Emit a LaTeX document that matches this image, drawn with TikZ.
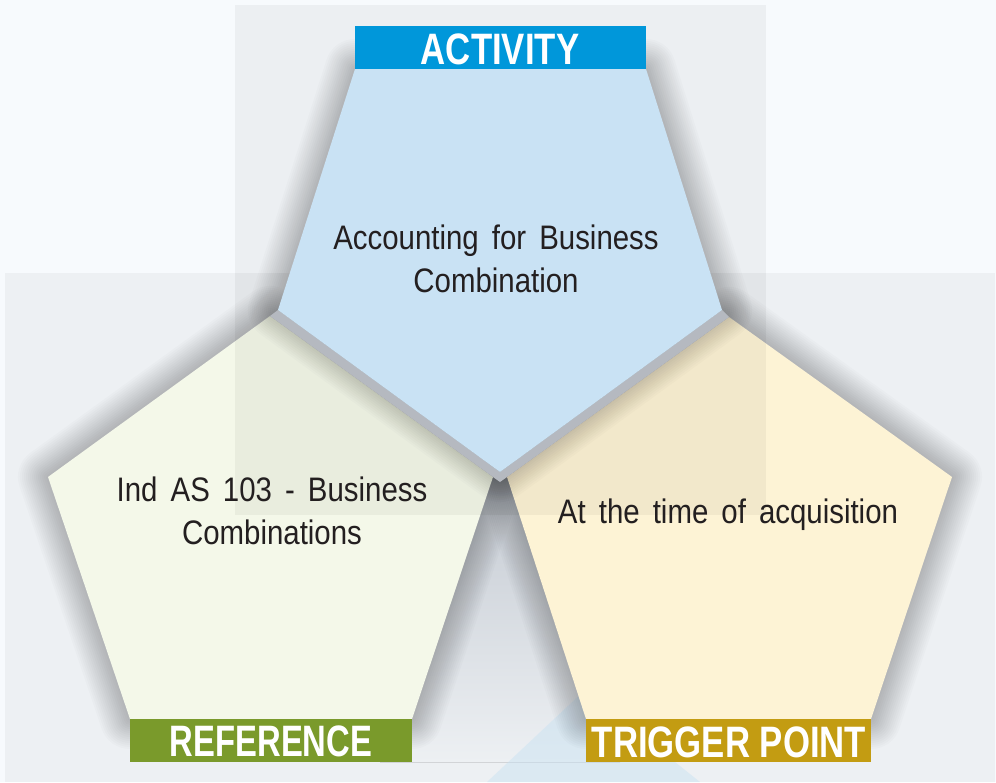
\documentclass[tikz,border=0pt]{standalone}
\usepackage{fontspec}
\setmainfont{Liberation Sans}[FakeStretch=0.865, WordSpace=1.6]
\newfontfamily\labelfont{Liberation Sans}[FakeStretch=0.79]
\newfontfamily\labelfontn{Liberation Sans}[FakeStretch=0.745]
\definecolor{bgbase}{HTML}{F7FAFD}
\definecolor{bglow}{HTML}{EDF0F3}
\definecolor{topfill}{HTML}{C9E2F4}
\definecolor{leftfill}{HTML}{F4F8E9}
\definecolor{rightfill}{HTML}{FDF3D5}
\definecolor{gapgray}{HTML}{BEC2C9}
\definecolor{midgray}{HTML}{C4CAD2}
\definecolor{actblue}{HTML}{0097DA}
\definecolor{refgreen}{HTML}{7A9A2B}
\definecolor{triggold}{HTML}{C39C12}
\definecolor{txt}{HTML}{231F20}
\definecolor{lightblue}{HTML}{C6E1F2}
\tikzset{
  shadowring/.style={draw=black, opacity=0.014, line join=round, fill=none},
  bodytext/.style={font=\fontsize{34}{42.5}\selectfont, text=txt, inner sep=0pt},
  labeltext/.style={text=white, inner sep=0pt, anchor=base},
  labelbox/.style={rectangle, inner sep=0pt, draw=none},
}
\def\toppent{(355,69) -- (646,69) -- (722,310) -- (500,472) -- (278,310) -- cycle}
\def\leftpent{(270,316) -- (493,477) -- (412,719) -- (130,719) -- (48,477) -- cycle}
\def\rightpent{(729,317) -- (952,477) -- (871,719) -- (586,719) -- (507,477) -- cycle}
\newcommand\softshade[1]{%
  \foreach \w in {4,8,...,60} {\draw[shadowring, line width=\w pt] #1;}}
\begin{document}
\begin{tikzpicture}[x=1pt,y=-1pt]
\useasboundingbox (0,0) rectangle (996,782);
% background
\fill[bgbase] (0,0) rectangle (996,782);
\fill[black, opacity=0.04] (5,273) rectangle (995,782);
% region between the two lower pentagons
\fill[top color=midgray, bottom color=bglow] (493,477) -- (507,477) -- (620,719) -- (620,762)
   -- (380,762) -- (380,719) -- cycle;
\fill[lightblue, opacity=0.45] (487,782) -- (585,690) -- (700,782) -- cycle;
% lower pentagons
\softshade{\leftpent}
\softshade{\rightpent}
\fill[leftfill] \leftpent;
\fill[rightfill] \rightpent;
% shadow of the upper pentagon
\softshade{\toppent}
% gap band
\fill[gapgray] (270,316) -- (278,310) -- (500,472) -- (722,310) -- (729,317)
   -- (507,477) -- (500,482) -- (493,477) -- cycle;
% translucent panel
\fill[black, opacity=0.045] (235,5) rectangle (766,515);
% top pentagon
\fill[topfill] \toppent;
% label boxes
\node[labelbox, fill=actblue, minimum width=291pt, minimum height=43pt] (actbox) at (500.5,47.5) {};
\node[labelbox, fill=refgreen, minimum width=282pt, minimum height=43pt] (refbox) at (271,740.5) {};
\node[labelbox, fill=triggold, minimum width=285pt, minimum height=43pt] (trigbox) at (728.5,740.5) {};
\node[labeltext, font=\labelfont\bfseries\fontsize{44}{46}\selectfont] (actlbl) at (500,64) {ACTIVITY};
\node[labeltext, font=\labelfontn\bfseries\fontsize{44}{46}\selectfont] (reflbl) at (271,756) {REFERENCE};
\node[labeltext, font=\labelfont\bfseries\fontsize{44}{46}\selectfont] (triglbl) at (729,757) {TRIGGER POINT};
% texts
\node[bodytext, align=center] (acttext) at (496,259) {Accounting for Business\\Combination};
\node[bodytext, align=center] (reftext) at (272,511) {Ind AS 103 - Business\\Combinations};
\node[bodytext, anchor=base] (trigtext) at (728,523) {At the time of acquisition};
\end{tikzpicture}
\end{document}
